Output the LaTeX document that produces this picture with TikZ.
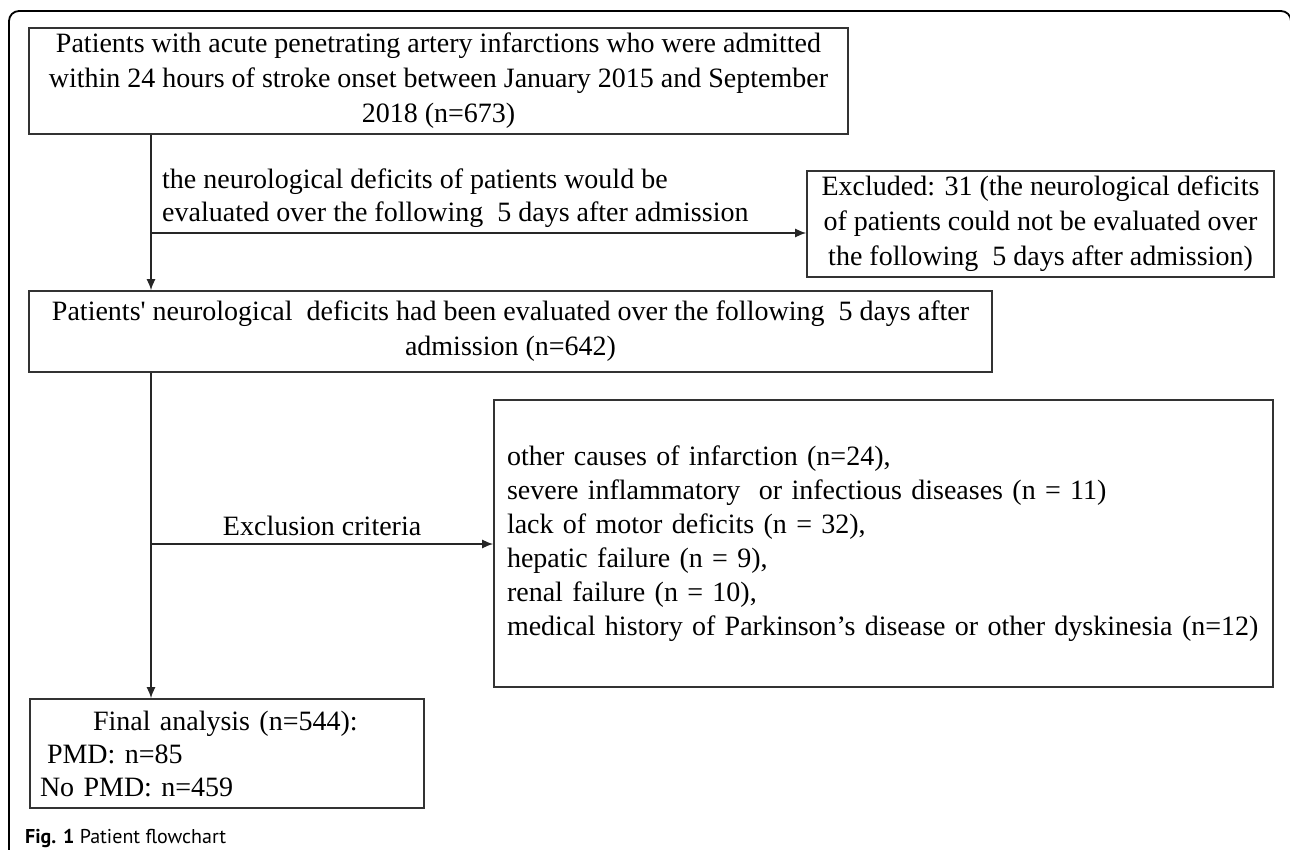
\documentclass[tikz,border=0pt]{standalone}
\usepackage{fontspec}
\setmainfont{Liberation Serif}
\newfontfamily\capfont{PT Sans}
\usetikzlibrary{arrows.meta}

\begin{document}
\begin{tikzpicture}[x=1pt,y=-1pt,>=Latex,
  box/.style={draw=black!80,line width=1.6pt,inner sep=0pt,align=center,
    font=\fontsize{28}{35}\selectfont},
  link/.style={draw=black!85,line width=1.5pt,-{Latex[length=11pt,width=9pt]}},
  note/.style={inner sep=0pt,font=\fontsize{28}{33}\selectfont}]
  % Canvas
  \useasboundingbox (0,0) rectangle (1290,850);
  \clip (0,0) rectangle (1290,850);
  \def\trunk{151}
  %
  % Outer frame
  \draw[line width=1.8pt,rounded corners=10pt]
    (9,900) -- (9,11) -- (1291,11) -- (1291,900);
  %
  % Boxes
  \node[box,minimum width=819pt,minimum height=106pt] (top) at (438.5,81)
    {Patients with acute penetrating artery infarctions who were admitted\\
     within 24 hours of stroke onset between January 2015 and September\\
     2018 (n=673)};
  \node[box,minimum width=467pt,minimum height=106pt] (excl) at (1040.5,224)
    {Excluded: 31 (the neurological deficits\\
     of patients could not be evaluated over\\
     the following\ \ 5 days after admission)};
  \node[box,minimum width=963pt,minimum height=81pt] (mid) at (510.5,331.5)
    {Patients\textquotesingle\ neurological\ \ deficits had been evaluated over the following\ \ 5 days after\\
     admission (n=642)};
  \node[box,align=left,text width=753pt,inner xsep=13pt,minimum height=287pt,
    font=\fontsize{28}{34}\selectfont] (crit) at (883.5,543.5)
    {other causes of infarction (n=24),\\
     severe inflammatory\ \ or infectious diseases (n = 11)\\
     lack of motor deficits (n = 32),\\
     hepatic failure (n = 9),\\
     renal failure (n = 10),\\
     medical history of Parkinson’s disease or other dyskinesia (n=12)};
  \node[box,align=left,text width=374pt,inner xsep=10pt,minimum height=109pt,
    font=\fontsize{28}{33}\selectfont] (final) at (227,753.5)
    {\hspace*{53pt}Final analysis (n=544):\\
     \hspace*{7pt}PMD: n=85\\
     No PMD: n=459};
  %
  % Connectors
  \coordinate (j1) at (\trunk,233);
  \coordinate (j2) at (\trunk,544);
  \draw[link] (top.south -| j1) -- (mid.north -| j1);
  \draw[link] (j1) -- (j1 -| excl.west);
  \node[note,align=left,anchor=south west] (lab) at (162,228)
    {the neurological deficits of patients would be\\
     evaluated over the following\ \ 5 days after admission};
  \draw[link] (mid.south -| j2) -- (final.north -| j2);
  \draw[link] (j2) -- (j2 -| crit.west)
    node[note,midway,above=7pt] (critlab) {Exclusion criteria};
  %
  % Caption
  \node[anchor=base west,inner sep=0pt,font=\capfont\fontsize{20}{24}\selectfont]
    (cap) at (25,843) {\textbf{Fig. 1} Patient flowchart};
\end{tikzpicture}
\end{document}
